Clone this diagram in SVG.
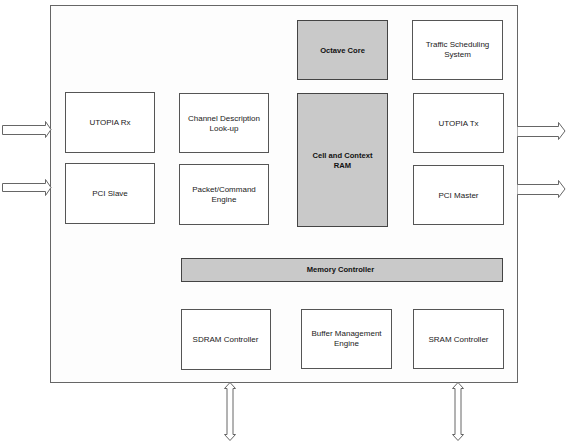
<svg xmlns="http://www.w3.org/2000/svg" width="568" height="445" viewBox="0 0 568 445">
<style>
.box{fill:#ffffff;stroke:#555;stroke-width:1}
.grey{fill:#c9c9c9;stroke:#444;stroke-width:1}
.outer{fill:#fdfdfd;stroke:#666;stroke-width:1}
.arrow{fill:#ffffff;stroke:#666;stroke-width:1}
text{font-family:"Liberation Sans",Arial,sans-serif;font-size:8px;fill:#1a1a1a;text-anchor:middle}
.dark{fill:#111;font-weight:bold;font-size:7.6px}
</style>
<rect width="568" height="445" fill="#ffffff"/>
<g id="chip"><rect class="outer" x="50.5" y="5.5" width="467" height="377"/></g>
<g id="connectors">
<path class="arrow" d="M2.5,125.5 H45.5 V121.5 L51,129.5 L45.5,137.5 V134.5 H2.5 Z"/>
<path class="arrow" d="M2.5,183.5 H45.5 V179.5 L51,187.5 L45.5,195.5 V191.5 H2.5 Z"/>
<path class="arrow" d="M517.5,126.5 H558.5 V122.5 L565,131 L558.5,139.5 V136.5 H517.5"/>
<path class="arrow" d="M517.5,184.5 H558.5 V180.5 L565,189 L558.5,197.5 V194.5 H517.5"/>
<path class="arrow" d="M230,382.5 L235.5,388.5 H233 V434.5 H235.5 L230,440.5 L224.5,434.5 H227 V388.5 H224.5 Z"/>
<path class="arrow" d="M458,382.5 L463.5,388.5 H461 V434.5 H463.5 L458,440.5 L452.5,434.5 H455 V388.5 H452.5 Z"/>
</g>
<g id="octave-core"><rect class="grey" x="297.5" y="20.5" width="90" height="59"/><text class="dark" x="342.5" y="52.5">Octave Core</text></g>
<g id="traffic-scheduling"><rect class="box" x="412.5" y="20.5" width="90" height="59"/><text x="457.5" y="47">Traffic Scheduling</text><text x="457.5" y="57">System</text></g>
<g id="utopia-rx"><rect class="box" x="65.5" y="92.5" width="89" height="60"/><text x="110" y="125">UTOPIA Rx</text></g>
<g id="channel-description"><rect class="box" x="179.5" y="93.5" width="89" height="59"/><text x="224" y="120.5">Channel Description</text><text x="224" y="130.5">Look-up</text></g>
<g id="cell-context-ram"><rect class="grey" x="297.5" y="93.5" width="90" height="133"/><text class="dark" x="342.5" y="157.5">Cell and Context</text><text class="dark" x="342.5" y="167.5">RAM</text></g>
<g id="utopia-tx"><rect class="box" x="413.5" y="93.5" width="90" height="59"/><text x="458.5" y="125.5">UTOPIA Tx</text></g>
<g id="pci-slave"><rect class="box" x="65.5" y="163.5" width="89" height="60"/><text x="110" y="196">PCI Slave</text></g>
<g id="packet-command"><rect class="box" x="179.5" y="164.5" width="89" height="60"/><text x="224" y="191.5">Packet/Command</text><text x="224" y="201.5">Engine</text></g>
<g id="pci-master"><rect class="box" x="413.5" y="165.5" width="90" height="59"/><text x="458.5" y="197.5">PCI Master</text></g>
<g id="memory-controller"><rect class="grey" x="181.5" y="258.5" width="321" height="23"/><text class="dark" x="340.5" y="271.5">Memory Controller</text></g>
<g id="sdram-controller"><rect class="box" x="181.5" y="309.5" width="89" height="60"/><text x="225.5" y="341.5">SDRAM Controller</text></g>
<g id="buffer-management"><rect class="box" x="301.5" y="309.5" width="90" height="59"/><text x="346.5" y="335.5">Buffer Management</text><text x="346.5" y="345.5">Engine</text></g>
<g id="sram-controller"><rect class="box" x="413.5" y="309.5" width="90" height="59"/><text x="458.5" y="341.5">SRAM Controller</text></g>
</svg>
